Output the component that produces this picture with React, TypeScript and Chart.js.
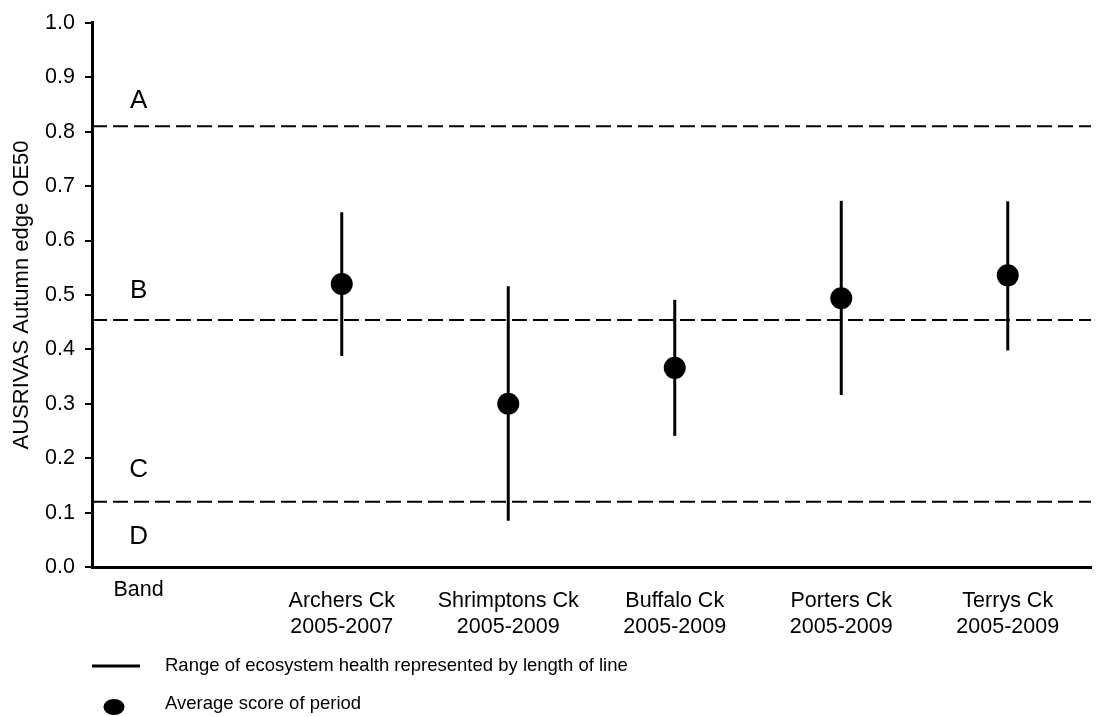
import React, { useEffect, useRef } from "react";
import { Chart, registerables } from "chart.js";

Chart.register(...registerables);

// Sites and sampling periods
const creeks = ["Archers Ck", "Shrimptons Ck", "Buffalo Ck", "Porters Ck", "Terrys Ck"];
const periods = ["2005-2007", "2005-2009", "2005-2009", "2005-2009", "2005-2009"];
const sitePositions = [1, 2, 3, 4, 5];

// AUSRIVAS OE50 scores per site
const averageScore = [0.52, 0.3, 0.366, 0.494, 0.536];
const rangeLow = [0.388, 0.085, 0.241, 0.316, 0.398];
const rangeHigh = [0.652, 0.516, 0.491, 0.673, 0.672];

// Band thresholds (A/B, B/C, C/D) and band names
const bandBoundaries = [0.81, 0.454, 0.12];
const bandNames = ["A", "B", "C", "D"];

const FONT = "'Liberation Sans', Arial, Helvetica, sans-serif";

const annotationsPlugin = {
  id: "bandAnnotations",
  afterDraw(chart: any) {
    const { ctx, scales } = chart;
    const x = scales.x;
    const y = scales.y;
    const bandLabelLevels = [0.857, 0.508, 0.179, 0.055];
    const bandX = x.getPixelForValue(-0.22);
    ctx.save();
    ctx.fillStyle = "#000";
    ctx.textAlign = "center";
    ctx.textBaseline = "middle";
    ctx.font = `26px ${FONT}`;
    bandNames.forEach((name, i) => {
      ctx.fillText(name, bandX, y.getPixelForValue(bandLabelLevels[i]));
    });
    // "Band" caption under the axis
    ctx.font = `21.5px ${FONT}`;
    ctx.fillText("Band", bandX, y.bottom + 23);

    // Key beneath the chart
    ctx.textAlign = "left";
    ctx.font = `18.5px ${FONT}`;
    const keyY1 = y.bottom + 99;
    const keyY2 = y.bottom + 139;
    ctx.strokeStyle = "#000";
    ctx.lineWidth = 3;
    ctx.beginPath();
    ctx.moveTo(92, keyY1);
    ctx.lineTo(140, keyY1);
    ctx.stroke();
    ctx.fillText("Range of ecosystem health represented by length of line", 165, keyY1);
    ctx.beginPath();
    ctx.ellipse(114, keyY2 + 1, 10.5, 8, 0, 0, Math.PI * 2);
    ctx.fill();
    ctx.fillText("Average score of period", 165, keyY2 - 2);
    ctx.restore();
  },
};

export default function App() {
  const canvasRef = useRef<HTMLCanvasElement | null>(null);

  useEffect(() => {
    if (!canvasRef.current) return;

    const meanPoints = sitePositions.map((p, i) => ({ x: p, y: averageScore[i] }));
    const rangeSets = sitePositions.map((p, i) => ({
      type: "line" as const,
      data: [
        { x: p, y: rangeLow[i] },
        { x: p, y: rangeHigh[i] },
      ],
      borderColor: "#000",
      borderWidth: 3,
      pointRadius: 0,
      borderCapStyle: "butt" as const,
    }));
    const bandSets = bandBoundaries.map((b) => ({
      type: "line" as const,
      data: [
        { x: -0.5, y: b },
        { x: 5.5, y: b },
      ],
      borderColor: "#000",
      borderWidth: 2,
      borderDash: [15, 6],
      pointRadius: 0,
    }));

    const chart = new Chart(canvasRef.current, {
      type: "scatter",
      data: {
        datasets: [
          {
            type: "scatter",
            data: meanPoints,
            pointRadius: 11,
            pointHoverRadius: 11,
            pointBackgroundColor: "#000",
            pointBorderWidth: 0,
          },
          ...rangeSets,
          ...bandSets,
        ] as any,
      },
      options: {
        responsive: false,
        animation: false,
        layout: { padding: { top: 20, right: 9, left: 0, bottom: 0 } },
        plugins: {
          legend: { display: false },
          tooltip: { enabled: false },
        },
        scales: {
          x: {
            type: "linear",
            min: -0.5,
            max: 5.5,
            afterBuildTicks: (scale: any) => {
              scale.ticks = sitePositions.map((v) => ({ value: v }));
            },
            afterFit: (scale: any) => {
              scale.height = 150;
            },
            grid: { display: false },
            border: { display: true, color: "#000", width: 3 },
            ticks: {
              autoSkip: false,
              maxRotation: 0,
              padding: 14,
              color: "#000",
              font: { family: FONT, size: 21.5, lineHeight: 1.17 },
              callback: (_v: any, i: number) => [creeks[i], periods[i]],
            },
          },
          y: {
            type: "linear",
            min: 0,
            max: 1,
            afterFit: (scale: any) => {
              scale.width = 92;
            },
            grid: {
              drawOnChartArea: false,
              color: "#000",
              lineWidth: 2,
              tickLength: 7,
            },
            border: { display: true, color: "#000", width: 3 },
            ticks: {
              stepSize: 0.1,
              padding: 10,
              color: "#000",
              font: { family: FONT, size: 21.5 },
              callback: (v: any) => Number(v).toFixed(1),
            },
            title: {
              display: true,
              text: "AUSRIVAS Autumn edge OE50",
              color: "#000",
              font: { family: FONT, size: 22 },
              padding: { top: 9, bottom: 0 },
            },
          },
        },
      },
      plugins: [annotationsPlugin],
    });

    return () => chart.destroy();
  }, []);

  return (
    <div style={{ position: "absolute", left: 0, top: 0, width: 1102, height: 717, background: "#fff" }}>
      <canvas ref={canvasRef} width={1102} height={717} style={{ display: "block" }} />
    </div>
  );
}
